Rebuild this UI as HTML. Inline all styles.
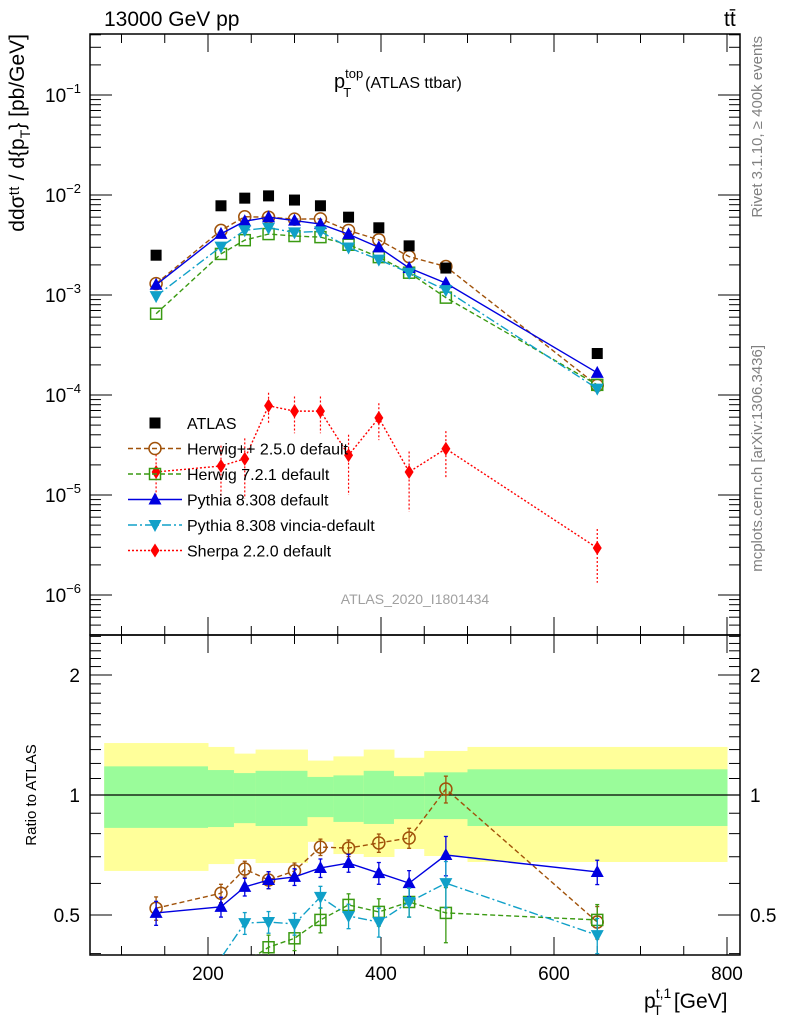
<!DOCTYPE html>
<html><head><meta charset="utf-8"><style>
body{margin:0;background:#fff;}
svg{display:block;font-family:"Liberation Sans",sans-serif;}
</style></head><body>
<svg id="chart" width="786" height="1024" viewBox="0 0 786 1024" xmlns="http://www.w3.org/2000/svg"></svg>
<script>
const binCenters=[140,215,242.5,270,300,330,362.5,397.5,432.5,475,650];
const binEdges=[80,200,230,255,285,315,345,380,415,450,500,800];
const atlasVals=[2.5e-3,7.8e-3,9.3e-3,9.8e-3,8.9e-3,7.8e-3,6.0e-3,4.7e-3,3.1e-3,1.86e-3,2.6e-4];
const herwigppRatio=[0.52,0.567,0.652,0.612,0.645,0.74,0.736,0.758,0.78,1.035,0.48];
const herwig7Ratio=[0.26,0.33,0.38,0.415,0.437,0.486,0.53,0.509,0.539,0.506,0.486];
const pythiaRatio=[0.506,0.524,0.588,0.612,0.623,0.656,0.675,0.637,0.601,0.707,0.641];
const vinciaRatio=[0.39,0.39,0.477,0.48,0.475,0.555,0.497,0.48,0.539,0.601,0.445];
const sherpaVals=[1.7e-5,1.95e-5,2.3e-5,7.8e-5,6.9e-5,6.9e-5,2.5e-5,5.9e-5,1.7e-5,2.9e-5,2.95e-6];
const sherpaErr=[0.5,0.6,0.6,0.35,0.4,0.4,0.6,0.4,0.6,0.5,0.55];
const mcRatioErr=[0.07,0.06,0.06,0.06,0.06,0.07,0.07,0.08,0.09,0.16,0.09];
const bandYellowHi=[1.35,1.32,1.27,1.30,1.30,1.22,1.25,1.30,1.24,1.29,1.32];
const bandYellowLo=[0.645,0.671,0.691,0.675,0.675,0.763,0.711,0.699,0.732,0.703,0.679];
const bandGreenHi=[1.18,1.155,1.135,1.15,1.15,1.11,1.12,1.15,1.115,1.14,1.16];
const bandGreenLo=[0.827,0.831,0.85,0.836,0.836,0.88,0.856,0.846,0.87,0.87,0.836];
const xTicks=[200,400,600,800];
const mainTickExp=[-1,-2,-3,-4,-5,-6];
const ratioTicks=[0.5,1,2];

const NS="http://www.w3.org/2000/svg";
const svg=document.getElementById('chart');
const L=90,R=740,T=34,M=635,B=955;
const X=v=>208+(v-200)*0.865;
const Y=v=>95-(Math.log10(v)+1)*100;
const YR=r=>795-Math.log10(r)*398.6;
function el(tag,attrs,parent){const e=document.createElementNS(NS,tag);for(const k in attrs)e.setAttribute(k,attrs[k]);(parent||svg).appendChild(e);return e;}
function txt(s,attrs,parent){const e=el('text',attrs,parent);e.textContent=s;return e;}

const band=el('g',{});


for(let i=0;i<binCenters.length;i++){
  const x0=X(Math.max(binEdges[i],80)),x1=X(binEdges[i+1]);
  el('rect',{x:x0,y:YR(bandYellowHi[i]),width:x1-x0+0.5,height:YR(bandYellowLo[i])-YR(bandYellowHi[i]),fill:'#ffff9a'},band);
  el('rect',{x:x0,y:YR(bandGreenHi[i]),width:x1-x0+0.5,height:YR(bandGreenLo[i])-YR(bandGreenHi[i]),fill:'#9afc9a'},band);
}
el('line',{x1:L,x2:R,y1:YR(1),y2:YR(1),stroke:'#000','stroke-width':1.2});

const f1=el('rect',{x:L,y:T,width:R-L,height:M-T,fill:'none',stroke:'#000','stroke-width':1.5});

const f2=el('rect',{x:L,y:M,width:R-L,height:B-M,fill:'none',stroke:'#000','stroke-width':1.5});


for(let v=100;v<=800;v+=50){
  const x=X(v),big=v%200===0,len=big?18:9;
  [[M,-1],[T,1],[B,-1],[M,1]].forEach(([y0,d])=>el('line',{x1:x,x2:x,y1:y0,y2:y0+d*len,stroke:'#000','stroke-width':1}));
}
xTicks.forEach(v=>{const t=txt(String(v),{x:X(v),y:980,'font-size':19,'text-anchor':'middle'});
});

for(let e=-7;e<=-1;e++){for(let m=1;m<10;m++){const v=m*Math.pow(10,e);const y=Y(v);if(y<T||y>M)continue;
 const len=m===1?22:11;el('line',{x1:L,x2:L+len,y1:y,y2:y,stroke:'#000'});el('line',{x1:R,x2:R-len,y1:y,y2:y,stroke:'#000'});}}
mainTickExp.forEach(e=>{const t=txt('10',{x:81,y:Y(Math.pow(10,e))+7,'font-size':19,'text-anchor':'end'});
 const s=el('tspan',{dy:-9,'font-size':13});s.textContent='\u2212'+Math.abs(e);t.appendChild(s);
 });

for(let r=0.4;r<=2.55;r+=0.1){const y=YR(r);if(y<M||y>B)continue;
 const big=ratioTicks.some(t=>Math.abs(t-r)<1e-6);const len=big?22:11;
 el('line',{x1:L,x2:L+len,y1:y,y2:y,stroke:'#000'});el('line',{x1:R,x2:R-len,y1:y,y2:y,stroke:'#000'});}
ratioTicks.forEach(r=>{
 const a=txt(String(r),{x:80,y:YR(r)+7,'font-size':19,'text-anchor':'end'});
 
 const b=txt(String(r),{x:750,y:YR(r)+7,'font-size':19,'text-anchor':'start'});
 });

function marker(type,x,y,col,g){
 if(type==='sq')el('rect',{x:x-5.5,y:y-5.5,width:11,height:11,fill:'#000'},g);
 else if(type==='circ')el('circle',{cx:x,cy:y,r:6,fill:'none',stroke:col,'stroke-width':1.5},g);
 else if(type==='osq')el('rect',{x:x-5.5,y:y-5.5,width:11,height:11,fill:'none',stroke:col,'stroke-width':1.5},g);
 else if(type==='tri')el('polygon',{points:`${x},${y-7} ${x-6.5},${y+5} ${x+6.5},${y+5}`,fill:col},g);
 else if(type==='itri')el('polygon',{points:`${x},${y+7} ${x-6.5},${y-5} ${x+6.5},${y-5}`,fill:col},g);
 else if(type==='dia')el('polygon',{points:`${x},${y-7} ${x-4.5},${y} ${x},${y+7} ${x+4.5},${y}`,fill:col},g);
}
const series=[
 {name:'herwigpp',ratio:herwigppRatio,col:'#a0520a',dash:'5,3',m:'circ'},
 {name:'herwig7',ratio:herwig7Ratio,col:'#3a9a12',dash:'5,3',m:'osq'},
 {name:'pythia',ratio:pythiaRatio,col:'#0000e0',dash:'',m:'tri'},
 {name:'vincia',ratio:vinciaRatio,col:'#10a0c8',dash:'9,3,2,3',m:'itri'}
];
function clip(id,y0,y1){const c=el('clipPath',{id});el('rect',{x:L,y:y0,width:R-L,height:y1-y0},c);}
clip('cm',T,M);clip('cr',M,B);

series.forEach(s=>{
 const vals=s.ratio.map((r,i)=>r*atlasVals[i]);
 const g=el('g',{'clip-path':'url(#cm)'});
 
 el('polyline',{points:binCenters.map((c,i)=>X(c)+','+Y(vals[i])).join(' '),fill:'none',stroke:s.col,'stroke-width':1.4,'stroke-dasharray':s.dash},g);
 binCenters.forEach((c,i)=>marker(s.m,X(c),Y(vals[i]),s.col,g));
 const gr=el('g',{'clip-path':'url(#cr)'});
 
 el('polyline',{points:binCenters.map((c,i)=>X(c)+','+YR(s.ratio[i])).join(' '),fill:'none',stroke:s.col,'stroke-width':1.4,'stroke-dasharray':s.dash},gr);
 binCenters.forEach((c,i)=>{const x=X(c);
  if(s.ratio[i]<0.4)return;
  const ya=YR(s.ratio[i]+mcRatioErr[i]*0.5),yb=YR(s.ratio[i]-mcRatioErr[i]*0.5);
  el('line',{x1:x,x2:x,y1:ya,y2:yb,stroke:s.col,'stroke-width':1.3},gr);
  el('line',{x1:x-2,x2:x+2,y1:ya,y2:ya,stroke:s.col,'stroke-width':1.3},gr);
  el('line',{x1:x-2,x2:x+2,y1:yb,y2:yb,stroke:s.col,'stroke-width':1.3},gr);
  marker(s.m,x,YR(s.ratio[i]),s.col,gr);});
});
const gs=el('g',{'clip-path':'url(#cm)'});

el('polyline',{points:binCenters.map((c,i)=>X(c)+','+Y(sherpaVals[i])).join(' '),fill:'none',stroke:'#ff0000','stroke-width':1.4,'stroke-dasharray':'2,2'},gs);
binCenters.forEach((c,i)=>{const x=X(c);
 el('line',{x1:x,x2:x,y1:Y(sherpaVals[i]*(1+sherpaErr[i])),y2:Y(sherpaVals[i]*(1-sherpaErr[i])),stroke:'#ff0000','stroke-width':1.2,'stroke-dasharray':'2,2'},gs);
 marker('dia',x,Y(sherpaVals[i]),'#ff0000',gs);});
const ga=el('g',{});

binCenters.forEach((c,i)=>marker('sq',X(c),Y(atlasVals[i]),'#000',ga));

const leg=[['ATLAS','sq','#000',''],['Herwig++ 2.5.0 default','circ','#a0520a','5,3'],['Herwig 7.2.1 default','osq','#3a9a12','5,3'],
 ['Pythia 8.308 default','tri','#0000e0',''],['Pythia 8.308 vincia-default','itri','#10a0c8','9,3,2,3'],['Sherpa 2.2.0 default','dia','#ff0000','2,2']];
leg.forEach((l,i)=>{const y=423+i*25.5;const g=el('g',{});
 
 if(i>0)el('line',{x1:128,x2:182,y1:y,y2:y,stroke:l[2],'stroke-width':1.4,'stroke-dasharray':l[3]},g);
 marker(l[1],155,y,l[2],g);
 txt(l[0],{x:187,y:y+6,'font-size':16},g);});

function T2(s,a,name){const t=txt(s,a);return t;}
T2('13000 GeV pp',{x:104,y:26,'font-size':21},'energy-label');
T2('tt\u0304',{x:724,y:26,'font-size':21},'process-label');
const pt=T2('p',{x:334,y:88,'font-size':20},'plot-title');
let s1=el('tspan',{dy:-10,'font-size':13});s1.textContent='top';pt.appendChild(s1);
let s2=el('tspan',{dx:-20,dy:19,'font-size':13});s2.textContent='T';pt.appendChild(s2);
let s3=el('tspan',{dx:14,dy:-9,'font-size':16});s3.textContent='(ATLAS ttbar)';pt.appendChild(s3);
T2('ATLAS_2020_I1801434',{x:415,y:604,'font-size':14,fill:'#a0a0a0','text-anchor':'middle'},'analysis-id');
T2('Rivet 3.1.10, \u2265 400k events',{x:0,y:0,'font-size':15,fill:'#808080','text-anchor':'end',transform:'translate(762,36) rotate(-90)'},'rivet-label');
T2('mcplots.cern.ch [arXiv:1306.3436]',{x:0,y:0,'font-size':15,fill:'#808080','text-anchor':'end',transform:'translate(762,345) rotate(-90)'},'mcplots-label');
T2('Ratio to ATLAS',{x:0,y:0,'font-size':15,'text-anchor':'middle',transform:'translate(36,795) rotate(-90)'},'ratio-axis-title');
const yt=T2('d',{x:0,y:0,'font-size':21,'text-anchor':'end',transform:'translate(24,34) rotate(-90)'},'y-axis-title');
let y1=el('tspan',{});y1.textContent='d\u03c3\u1d57\u1d57 / d{p';yt.appendChild(y1);
let y2=el('tspan',{dy:6,'font-size':14});y2.textContent='T';yt.appendChild(y2);
let y3=el('tspan',{dy:-6});y3.textContent='} [pb/GeV]';yt.appendChild(y3);
const xt=T2('p',{x:644,y:1008,'font-size':21},'x-axis-title');
let x1=el('tspan',{dy:-10,'font-size':14});x1.textContent='t,1';xt.appendChild(x1);
let x2=el('tspan',{dx:-18,dy:17,'font-size':14});x2.textContent='T';xt.appendChild(x2);
let x3=el('tspan',{dx:12,dy:-7});x3.textContent='[GeV]';xt.appendChild(x3);
</script>
</body></html>
